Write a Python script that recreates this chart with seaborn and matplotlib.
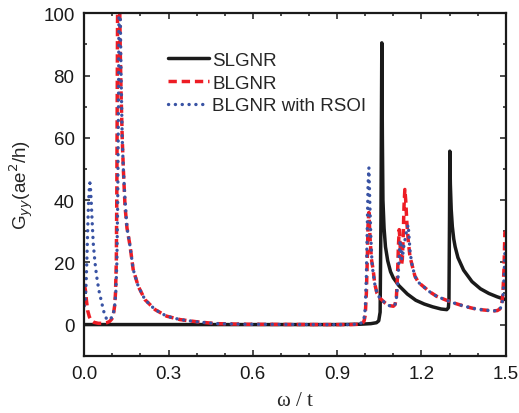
import pandas as pd
import numpy as np
import matplotlib
matplotlib.use("Agg")
import matplotlib.pyplot as plt
import seaborn as sns
from matplotlib.ticker import MultipleLocator

# ---------------------------------------------------------------
# data: (omega/t, G_yy) pairs
# ---------------------------------------------------------------
slgnr = [
    (0.0, 0), (0.3, 0), (0.6, 0), (0.9, 0), (0.98, 0.1), (1.02, 0.3),
    (1.04, 0.6), (1.048, 1.2), (1.053, 4), (1.056, 35), (1.059, 90.5),
    (1.061, 60), (1.063, 40), (1.067, 31), (1.072, 25), (1.08, 20.5),
    (1.09, 17), (1.10, 15), (1.12, 12.5), (1.15, 9.8), (1.18, 7.8),
    (1.21, 6.6), (1.24, 5.7), (1.27, 5.0), (1.29, 4.8), (1.296, 5.4),
    (1.298, 8), (1.300, 35), (1.301, 55.7), (1.303, 45), (1.306, 37),
    (1.31, 31.5), (1.315, 27.5), (1.32, 25), (1.33, 21.5), (1.35, 17.5),
    (1.38, 13.8), (1.41, 11.5), (1.44, 10), (1.47, 8.9), (1.5, 8),
]

blgnr = [
    (0.0, 13), (0.004, 11), (0.008, 7.5), (0.012, 4.5), (0.018, 2.5),
    (0.025, 1.3), (0.035, 0.7), (0.05, 0.4), (0.065, 0.4), (0.08, 0.6),
    (0.09, 1.0), (0.098, 1.8), (0.104, 3.5), (0.108, 6), (0.111, 10),
    (0.114, 20), (0.116, 45), (0.118, 90), (0.120, 130), (0.122, 140),
    (0.125, 110), (0.128, 88), (0.131, 74), (0.135, 60), (0.139, 50),
    (0.145, 38), (0.152, 31), (0.163, 25.2), (0.174, 17.7), (0.192, 12.3),
    (0.216, 8), (0.252, 4.8), (0.293, 2.7), (0.341, 1.6), (0.40, 0.9),
    (0.47, 0.3), (0.57, 0.1), (0.7, 0.05), (0.85, 0), (0.95, 0),
    (0.98, 0.1), (0.99, 0.4), (0.996, 1.2), (1.0, 3), (1.004, 10),
    (1.007, 20), (1.010, 32), (1.013, 36), (1.017, 28), (1.022, 21),
    (1.028, 17.7), (1.034, 13), (1.042, 10), (1.052, 8.5), (1.07, 7),
    (1.085, 6.1), (1.1, 5.9), (1.106, 6.4), (1.111, 9), (1.115, 16),
    (1.118, 25), (1.121, 30.5), (1.123, 28), (1.126, 22), (1.129, 19),
    (1.132, 21), (1.135, 28), (1.138, 38), (1.141, 43.4), (1.144, 40),
    (1.148, 33), (1.153, 27), (1.159, 22), (1.167, 19), (1.177, 15.5),
    (1.19, 13.5), (1.206, 12.3), (1.23, 10.5), (1.254, 9.1), (1.284, 8),
    (1.313, 7), (1.349, 6), (1.384, 5.2), (1.42, 4.7), (1.456, 4.4),
    (1.47, 4.5), (1.479, 5), (1.486, 6.5), (1.49, 10), (1.494, 18),
    (1.497, 29.5), (1.5, 30),
]

rsoi = [
    (0.0, 6), (0.003, 8), (0.006, 12), (0.009, 20), (0.012, 30),
    (0.015, 39), (0.018, 44), (0.02, 45.5), (0.022, 44), (0.025, 39),
    (0.028, 33), (0.032, 26), (0.038, 20), (0.044, 15.5), (0.052, 11),
    (0.062, 7), (0.07, 4), (0.08, 1.6), (0.09, 1.6), (0.1, 2.5),
    (0.107, 5), (0.112, 10), (0.116, 20), (0.119, 40), (0.122, 75),
    (0.124, 110), (0.126, 130), (0.128, 100), (0.131, 80), (0.135, 60),
    (0.139, 50), (0.145, 40), (0.152, 31), (0.163, 25.2), (0.174, 17.7),
    (0.192, 12.3), (0.216, 8), (0.252, 4.8), (0.293, 2.7), (0.341, 1.6),
    (0.40, 0.9), (0.47, 0.3), (0.57, 0.1), (0.7, 0.05), (0.85, 0),
    (0.95, 0), (0.975, 0.2), (0.988, 0.6), (0.995, 1.6), (1.0, 5),
    (1.004, 15), (1.007, 30), (1.010, 45), (1.013, 50.4), (1.016, 40),
    (1.02, 28), (1.024, 20), (1.028, 16.6), (1.034, 13), (1.042, 10),
    (1.052, 8.5), (1.07, 7), (1.085, 6.1), (1.1, 5.9), (1.106, 6.4),
    (1.111, 8.5), (1.116, 14), (1.121, 22), (1.124, 27), (1.127, 26),
    (1.13, 21), (1.133, 22), (1.137, 25), (1.141, 27), (1.145, 29),
    (1.149, 31), (1.153, 32), (1.156, 28), (1.16, 23), (1.167, 19),
    (1.177, 15.5), (1.19, 13.5), (1.206, 12.3), (1.23, 10.5), (1.254, 9.1),
    (1.284, 8), (1.313, 7), (1.349, 6), (1.384, 5.2), (1.42, 4.7),
    (1.456, 4.4), (1.47, 4.5), (1.479, 5), (1.486, 6), (1.49, 9),
    (1.494, 15), (1.497, 23), (1.5, 25),
]

series_names = ['SLGNR', 'BLGNR', 'BLGNR with RSOI']
series_data = [slgnr, blgnr, rsoi]
colors = ['#1a1a1a', '#ed1c24', '#3953a4']
styles = ['-', (0, (2.4, 1.4)), (0, (0.05, 2.0))]
widths = [2.5, 2.5, 2.4]
caps = ['butt', 'butt', 'round']

# ---------------------------------------------------------------
# figure
# ---------------------------------------------------------------
sns.set_style('ticks')
plt.rcParams['font.family'] = ['Liberation Sans', 'DejaVu Sans']

fig = plt.figure(figsize=(5.19, 4.14), dpi=100)
ax = fig.add_axes([0.1624, 0.1384, 0.812, 0.8271])

for name, data, c, ls, lw, cap in zip(series_names, series_data, colors, styles, widths, caps):
    df = pd.DataFrame(data, columns=['w', 'G'])
    sns.lineplot(data=df, x='w', y='G', ax=ax, color=c, linewidth=lw,
                 estimator=None, sort=False, label=name)
    ax.lines[-1].set_linestyle(ls)
    ax.lines[-1].set_dash_capstyle(cap)

ax.set_xlim(0, 1.5)
ax.set_ylim(-10, 100)
ax.xaxis.set_major_locator(MultipleLocator(0.3))
ax.xaxis.set_minor_locator(MultipleLocator(0.1))
ax.yaxis.set_major_locator(MultipleLocator(20))
ax.yaxis.set_minor_locator(MultipleLocator(10))
ax.tick_params(which='both', direction='in', top=True, right=True,
               labelsize=13.5, width=1.1, colors='#1a1a1a')
ax.tick_params(which='major', length=4.5, pad=7)
ax.tick_params(which='minor', length=2.5)
for s in ax.spines.values():
    s.set_linewidth(1.6)
    s.set_color('#1a1a1a')

ax.set_xlabel('ω / t', fontsize=15, family=['Liberation Serif', 'DejaVu Serif'],
              labelpad=6)
ax.set_ylabel('G$_{yy}$(ae$^2$/h)', fontsize=13.5, labelpad=5)

leg = ax.legend(loc='upper left', bbox_to_anchor=(0.199, 0.888), frameon=False,
                fontsize=13.5, handlelength=2.2, handletextpad=0.15,
                labelspacing=0.3, borderpad=0, borderaxespad=0)
for h, ls, cap in zip(leg.get_lines(), styles, caps):
    h.set_linestyle(ls)
    h.set_dash_capstyle(cap)

fig.savefig('out.png', dpi=100)
